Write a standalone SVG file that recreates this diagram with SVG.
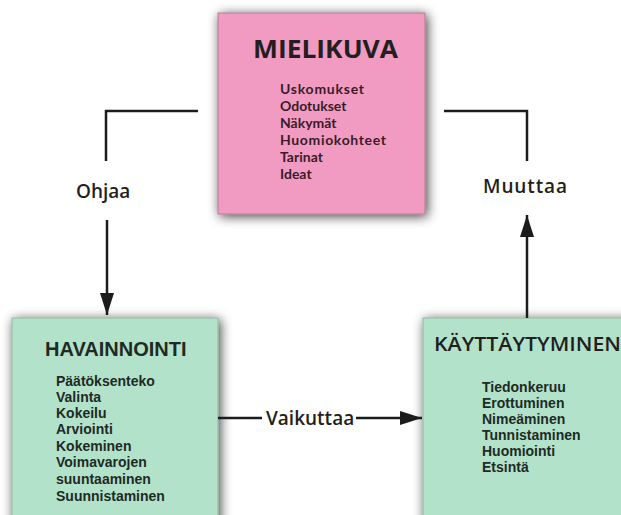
<svg xmlns="http://www.w3.org/2000/svg" width="621" height="515" viewBox="0 0 621 515">
  <defs>
    <filter id="shadow" x="-20%" y="-20%" width="140%" height="140%">
      <feGaussianBlur in="SourceAlpha" stdDeviation="6"/>
      <feOffset dx="2" dy="2" result="b"/>
      <feComponentTransfer><feFuncA type="linear" slope="0.75"/></feComponentTransfer>
      <feMerge><feMergeNode/><feMergeNode in="SourceGraphic"/></feMerge>
    </filter>
    <marker id="arrow" viewBox="0 0 22 14" refX="22" refY="7" markerWidth="22" markerHeight="14" markerUnits="userSpaceOnUse" orient="auto">
      <path d="M0,0 L22,7 L0,14 Z" fill="#1c1c1c"/>
    </marker>
  </defs>
  <style>
    .pink { fill: #f29bc2; stroke: #b07a90; stroke-width: 1; }
    .green { fill: #b3e2cb; stroke: #8fb5a2; stroke-width: 1; }
    .hum { font-family: "Open Sans", "DejaVu Sans", sans-serif; fill: #231f20; }
    .title { font-weight: 700; font-size: 25px; }
    .pitem { font-family: Lato, "Open Sans", sans-serif; font-weight: 700; font-size: 14px; fill: #3a1c28; }
    .gtitle { font-family: "Liberation Sans", Arial, sans-serif; font-weight: 700; font-size: 20px; fill: #1e2a24; }
    .gitem { font-family: "Liberation Sans", Arial, sans-serif; font-weight: 700; font-size: 14px; fill: #1e2a24; }
    .lbl { font-family: "Open Sans", "DejaVu Sans", sans-serif; font-weight: 600; font-size: 19px; fill: #231f20; }
    .conn { fill: none; stroke: #1c1c1c; stroke-width: 2.5; }
  </style>

  <rect width="621" height="515" fill="#ffffff"/>

  <g id="mielikuva">
    <rect class="pink" x="218" y="13" width="207" height="201" filter="url(#shadow)"/>
    <text class="hum title" x="253" y="58" textLength="145" lengthAdjust="spacingAndGlyphs">MIELIKUVA</text>
    <text class="pitem" x="280" y="94" textLength="84">Uskomukset</text>
    <text class="pitem" x="280" y="111">Odotukset</text>
    <text class="pitem" x="280" y="128">Näkymät</text>
    <text class="pitem" x="280" y="145" textLength="106">Huomiokohteet</text>
    <text class="pitem" x="280" y="162">Tarinat</text>
    <text class="pitem" x="280" y="179">Ideat</text>
  </g>

  <g id="havainnointi">
    <rect class="green" x="12" y="318" width="206" height="210" filter="url(#shadow)"/>
    <text class="gtitle" x="45" y="356">HAVAINNOINTI</text>
    <text class="gitem" x="56" y="386">Päätöksenteko</text>
    <text class="gitem" x="56" y="402">Valinta</text>
    <text class="gitem" x="56" y="418">Kokeilu</text>
    <text class="gitem" x="56" y="434">Arviointi</text>
    <text class="gitem" x="56" y="451">Kokeminen</text>
    <text class="gitem" x="56" y="467">Voimavarojen</text>
    <text class="gitem" x="56" y="484">suuntaaminen</text>
    <text class="gitem" x="56" y="501">Suunnistaminen</text>
  </g>

  <g id="kayttaytyminen">
    <rect class="green" x="423" y="318" width="210" height="210" filter="url(#shadow)"/>
    <text class="hum" x="434" y="351" font-size="20" font-weight="600" textLength="187" lengthAdjust="spacingAndGlyphs">KÄYTTÄYTYMINEN</text>
    <text class="gitem" x="482" y="392">Tiedonkeruu</text>
    <text class="gitem" x="482" y="408">Erottuminen</text>
    <text class="gitem" x="482" y="424">Nimeäminen</text>
    <text class="gitem" x="482" y="440">Tunnistaminen</text>
    <text class="gitem" x="482" y="456">Huomiointi</text>
    <text class="gitem" x="482" y="472">Etsintä</text>
  </g>

  <g id="connectors">
    <!-- Ohjaa: image to perception -->
    <polyline class="conn" points="198,111 106,111 106,161"/>
    <text class="lbl" x="76" y="198">Ohjaa</text>
    <line class="conn" x1="107" y1="220" x2="107" y2="315" marker-end="url(#arrow)"/>

    <!-- Muuttaa: behaviour to image -->
    <polyline class="conn" points="444,111 527,111 527,161"/>
    <text class="lbl" x="483" y="193" textLength="84">Muuttaa</text>
    <line class="conn" x1="527" y1="318" x2="527" y2="215" marker-end="url(#arrow)"/>

    <!-- Vaikuttaa: perception to behaviour -->
    <line class="conn" x1="218" y1="418" x2="262" y2="418"/>
    <text class="lbl" x="266" y="425">Vaikuttaa</text>
    <line class="conn" x1="356" y1="418" x2="422" y2="418" marker-end="url(#arrow)"/>
  </g>
</svg>
